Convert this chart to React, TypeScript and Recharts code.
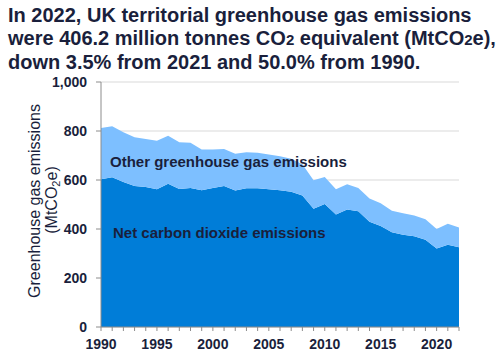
import React from "react"
import { AreaChart, Area, XAxis, YAxis, CartesianGrid } from "recharts"

const years = [
    1990, 1991, 1992, 1993, 1994, 1995, 1996, 1997, 1998, 1999, 2000,
    2001, 2002, 2003, 2004, 2005, 2006, 2007, 2008, 2009, 2010,
    2011, 2012, 2013, 2014, 2015, 2016, 2017, 2018, 2019, 2020, 2021, 2022,
]

// total territorial GHG emissions, MtCO2e
const totalEmissions = [
    812, 819, 795, 775, 767, 760, 781, 754, 752, 724, 725,
    727, 707, 713, 711, 704, 697, 687, 664, 599, 612,
    562, 583, 567, 525, 505, 475, 464, 455, 440, 400, 421, 406,
]

// net carbon dioxide, MtCO2e
const netCO2 = [
    603, 611, 592, 576, 571, 562, 585, 563, 567, 558, 567,
    576, 557, 566, 566, 562, 558, 552, 537, 483, 502,
    459, 480, 472, 430, 412, 387, 377, 370, 356, 320, 336, 326,
]

const yTicks = [0, 200, 400, 600, 800, 1000]
const labelYears = [1990, 1995, 2000, 2005, 2010, 2015, 2020]

const chartData = years.map((year, i) => ({
    year,
    co2: netCO2[i],
    other: totalEmissions[i] - netCO2[i],
}))

const FONT = "'Liberation Sans', Arial, sans-serif"
const TEXT = "#1a1f3c"

export default function App() {
    return (
        <div style={{ position: "fixed", left: 0, top: 0, width: 497, height: 351, background: "#fff", fontFamily: FONT }}>
            <div style={{ position: "absolute", left: 8, top: 4, fontSize: 20, lineHeight: "22.5px", fontWeight: 700, color: TEXT, whiteSpace: "nowrap" }}>
                In 2022, UK territorial greenhouse gas emissions<br />
                were 406.2 million tonnes CO<span style={{ fontSize: 15 }}>2</span> equivalent (MtCO<span style={{ fontSize: 15 }}>2</span>e),<br />
                down 3.5% from 2021 and 50.0% from 1990.
            </div>
            <div style={{ position: "absolute", left: 0, top: 0 }}>
                <AreaChart width={497} height={351} data={chartData} margin={{ top: 82, right: 38, left: 0, bottom: 0 }}>
                    <CartesianGrid vertical={false} stroke="#d9d9d9" />
                    <XAxis
                        dataKey="year"
                        type="number"
                        domain={[1990, 2022]}
                        ticks={years}
                        interval={0}
                        height={24}
                        tickSize={4}
                        tickMargin={8}
                        stroke="#8c8c8c"
                        tickFormatter={(v) => (labelYears.includes(v) ? String(v) : "")}
                        tick={{ fill: TEXT, fontSize: 14, fontWeight: 700, fontFamily: FONT }}
                    />
                    <YAxis
                        type="number"
                        domain={[0, 1000]}
                        ticks={yTicks}
                        width={101}
                        tickSize={5}
                        tickMargin={9}
                        stroke="#8c8c8c"
                        tickFormatter={(v) => v.toLocaleString("en-US")}
                        tick={{ fill: TEXT, fontSize: 14, fontWeight: 700, fontFamily: FONT }}
                    />
                    <Area type="linear" dataKey="co2" stackId="1" stroke="none" fill="#007dd8" fillOpacity={1} isAnimationActive={false} />
                    <Area type="linear" dataKey="other" stackId="1" stroke="none" fill="#7dbfff" fillOpacity={1} isAnimationActive={false} />
                </AreaChart>
            </div>
            <svg width={497} height={351} style={{ position: "absolute", left: 0, top: 0, pointerEvents: "none" }}>
                <g fontFamily={FONT} fill={TEXT}>
                    <text x={110} y={167} fontSize={15} fontWeight={700}>Other greenhouse gas emissions</text>
                    <text x={113} y={238} fontSize={15} fontWeight={700}>Net carbon dioxide emissions</text>
                    <text transform="translate(40,201) rotate(-90)" textAnchor="middle" fontSize={16}>Greenhouse gas emissions</text>
                    <text transform="translate(57,200) rotate(-90)" textAnchor="middle" fontSize={16}>
                        (MtCO<tspan fontSize={11} dy={3}>2</tspan><tspan dy={-3}>e)</tspan>
                    </text>
                </g>
            </svg>
        </div>
    )
}
